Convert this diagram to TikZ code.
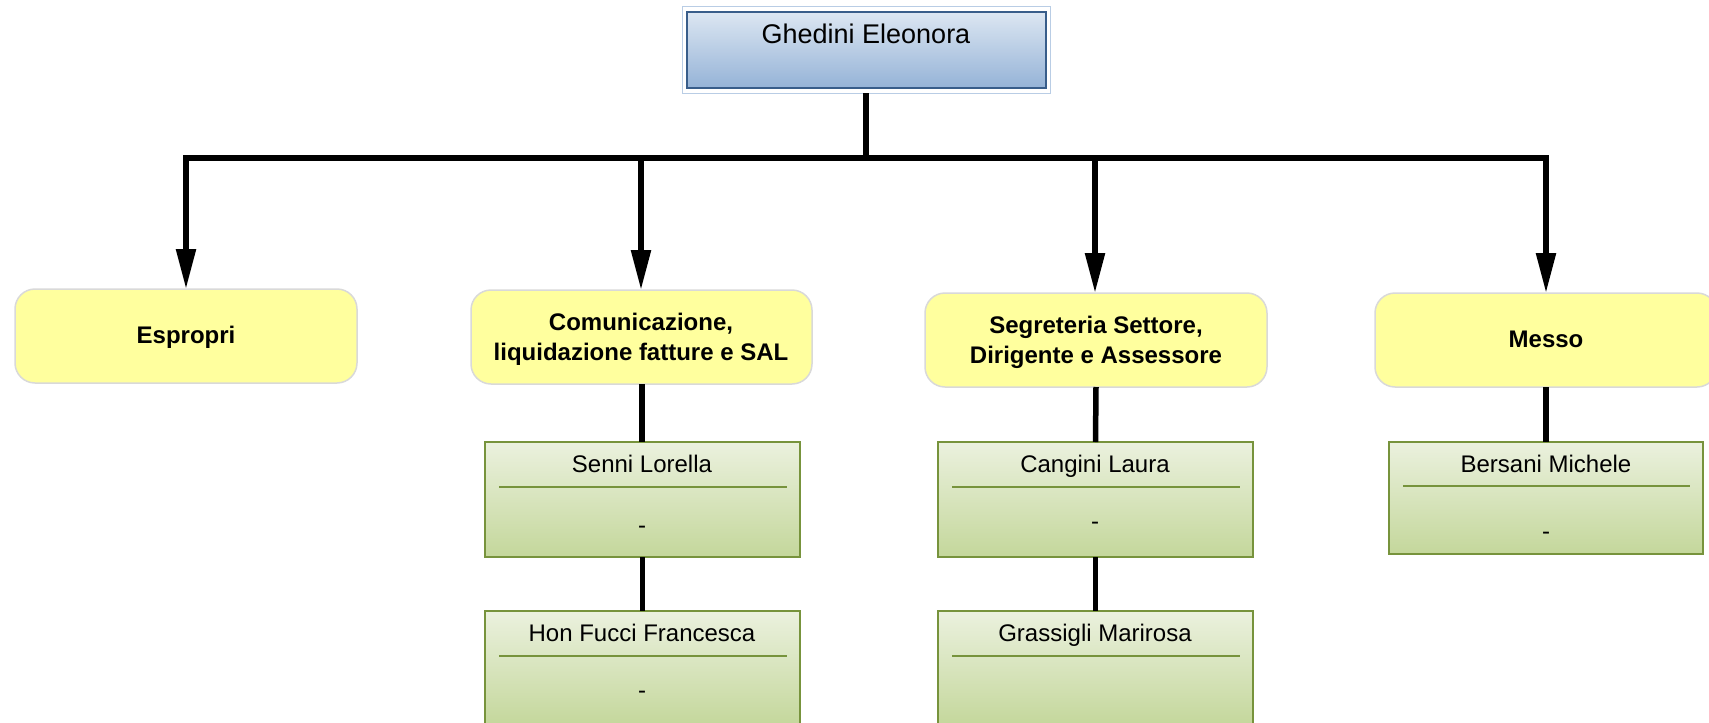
\documentclass[tikz,border=0pt]{standalone}
\usepackage{fontspec}
\setmainfont{Liberation Sans}
\usetikzlibrary{arrows.meta}
\definecolor{bossTop}{HTML}{DCE6F2}
\definecolor{bossBot}{HTML}{95B3D7}
\definecolor{bossLine}{HTML}{385D8A}
\definecolor{bossFrame}{HTML}{B9CDE5}
\definecolor{unitFill}{HTML}{FFFF9E}
\definecolor{unitLine}{HTML}{D9D9D9}
\definecolor{perTop}{HTML}{EBF1DE}
\definecolor{perBot}{HTML}{C4D79B}
\definecolor{perLine}{HTML}{77933C}
\tikzset{
  box/.style={draw, inner sep=0pt, outer sep=0pt, anchor=north west},
  unitbox/.style={box, fill=unitFill, draw=unitLine, line width=1.5pt, rounded corners=20pt},
  perbox/.style={box, top color=perTop, bottom color=perBot, draw=perLine, line width=1.5pt},
  unittext/.style={font=\fontsize{24}{30}\selectfont\bfseries, align=center, anchor=base, inner sep=0pt},
  nametext/.style={font=\fontsize{24}{29}\selectfont, anchor=base, inner sep=0pt},
  sepline/.style={draw=perLine, line width=1.5pt},
  conn/.style={line width=5.5pt, draw=black},
  arr/.style={conn, -{Triangle[length=40pt,width=19pt]}},
}
\begin{document}
\begin{tikzpicture}[x=1pt,y=-1pt]
\useasboundingbox (0,0) rectangle (1709,723);
% boss
\node[box, draw=bossFrame, line width=1pt, minimum width=368pt, minimum height=87pt] (boss) at (682,6) {};
\node[box, top color=bossTop, bottom color=bossBot, draw=bossLine, line width=1.5pt, minimum width=359pt, minimum height=76pt] (bossin) at (687,12) {};
\node[nametext, font=\fontsize{27}{32}\selectfont] (bosst) at (866,43) {Ghedini Eleonora};
% units
\node[unitbox, minimum width=342pt, minimum height=94pt] (esp) at (15,289) {};
\node[unitbox, minimum width=341pt, minimum height=94pt] (com) at (471,290) {};
\node[unitbox, minimum width=342pt, minimum height=94pt] (seg) at (925,293) {};
\node[unitbox, minimum width=342pt, minimum height=94pt] (mes) at (1375,293) {};
\node[unittext] (espt) at (186,343) {Espropri};
\node[unittext] (comt1) at (641,330) {Comunicazione,};
\node[unittext] (comt2) at (641,360) {liquidazione fatture e SAL};
\node[unittext] (segt1) at (1096,333) {Segreteria Settore,};
\node[unittext] (segt2) at (1096,363) {Dirigente e Assessore};
\node[unittext] (mest) at (1546,347) {Messo};
% persons
\node[perbox, minimum width=315pt, minimum height=115pt] (sen) at (485,442) {};
\node[perbox, minimum width=315pt, minimum height=115pt] (hon) at (485,611) {};
\node[perbox, minimum width=315pt, minimum height=115pt] (can) at (938,442) {};
\node[perbox, minimum width=315pt, minimum height=115pt] (gra) at (938,611) {};
\node[perbox, minimum width=314pt, minimum height=112pt] (ber) at (1389,442) {};
\draw[sepline] (499,487) -- (787,487);
\draw[sepline] (499,656) -- (787,656);
\draw[sepline] (952,487) -- (1240,487);
\draw[sepline] (952,656) -- (1240,656);
\draw[sepline] (1403,486) -- (1690,486);
\node[nametext] (sent) at (642,472) {Senni Lorella};
\node[nametext] (senr) at (642,533) {-};
\node[nametext] (hont) at (642,641) {Hon Fucci Francesca};
\node[nametext] (honr) at (642,698) {-};
\node[nametext] (cant) at (1095,472) {Cangini Laura};
\node[nametext] (canr) at (1095,529) {-};
\node[nametext] (grat) at (1095,641) {Grassigli Marirosa};
\node[nametext] (bert) at (1546,472) {Bersani Michele};
\node[nametext] (berr) at (1546,539) {-};
% connectors
\coordinate (bar) at (866,158);
\draw[arr] (boss.south) -- (bar) -| (esp.north);
\draw[arr] (bar) -| ([xshift=-0.5pt]com.north);
\draw[arr] (bar) -| ([xshift=-1pt]seg.north);
\draw[arr] (bar) -| (mes.north);
\draw[conn] ([xshift=0.5pt]com.south) -- ([xshift=-0.5pt]sen.north);
\draw[conn] (sen.south) -- (hon.north);
\draw[conn] (seg.south) -- (can.north);
\draw[conn] (can.south) -- (gra.north);
\draw[conn] (mes.south) -- (ber.north);
\end{tikzpicture}
\end{document}
